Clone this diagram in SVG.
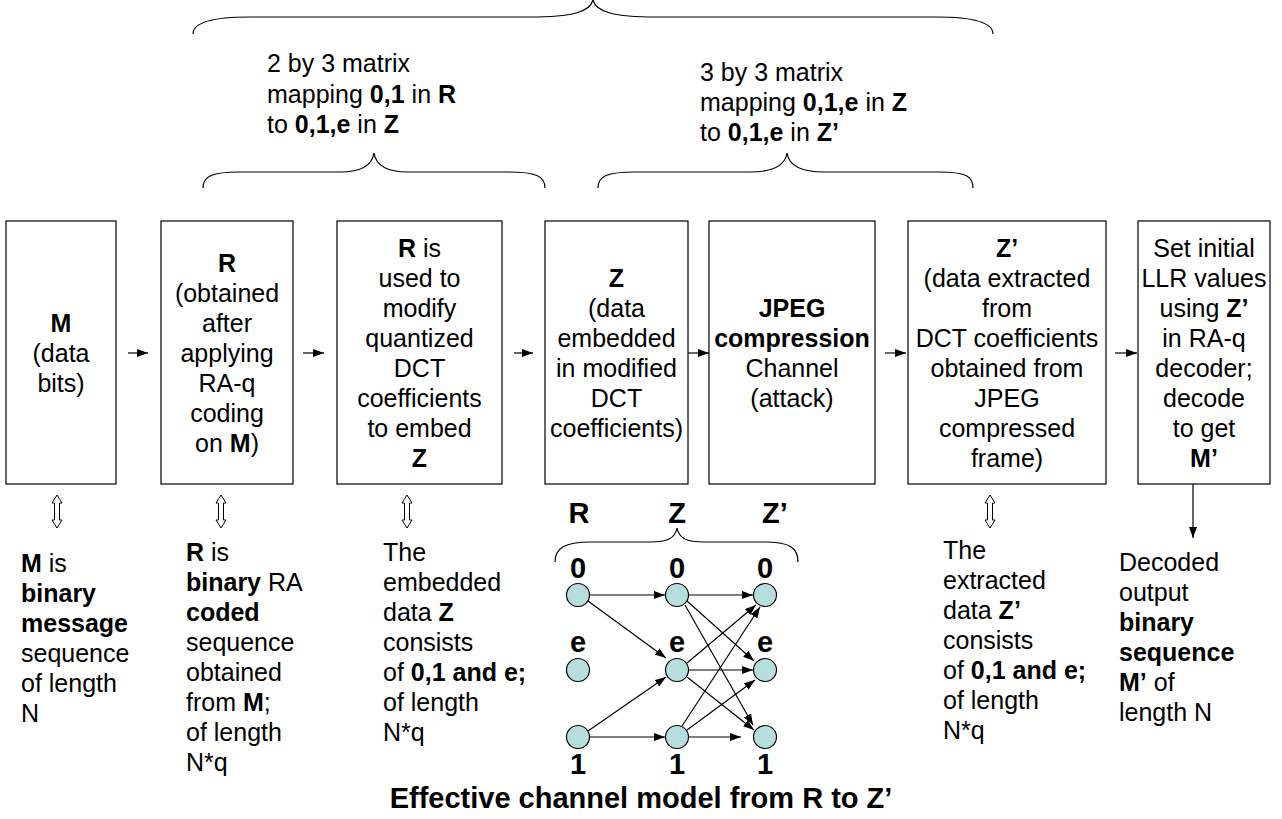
<svg xmlns="http://www.w3.org/2000/svg" width="1282" height="819" viewBox="0 0 1282 819">
  <style>
    text { font-family: "Liberation Sans", Arial, sans-serif; font-size: 25px; fill: #000; }
    .c { text-anchor: middle; }
    .b { font-weight: bold; }
    .note { font-size: 26px; }
    .box { fill: #fff; stroke: #000; stroke-width: 1.2; }
    .brace { fill: none; stroke: #000; stroke-width: 1.2; }
    .arr { stroke: #000; stroke-width: 1.2; fill: none; marker-end: url(#head); }
    .dbl { fill: #fff; stroke: #000; stroke-width: 1; }
    .node { fill: #b7dedf; stroke: #000; stroke-width: 1.2; }
    .lab { font-weight: bold; font-size: 29px; text-anchor: middle; }
    .title { font-weight: bold; font-size: 29px; text-anchor: middle; }
  </style>
  <defs>
    <marker id="head" markerUnits="userSpaceOnUse" markerWidth="11" markerHeight="8" refX="11" refY="4" orient="auto">
      <path d="M0,0 L11,4 L0,8 z" fill="#000"/>
    </marker>
  </defs>

  <rect width="1282" height="819" fill="#fff"/>

  <!-- braces and matrix notes above the pipeline -->
  <g id="braces">
    <path class="brace" d="M193,34 C193,22 213,17 250,17 L530,17 C572,17 590,12 593,0 C596,12 614,17 656,17 L936,17 C973,17 993,22 993,34"/>
    <path class="brace" d="M203,188 C203,176 212,172 240,172 L340,172 C361,172 372,166 374,153 C376,166 387,172 408,172 L508,172 C536,172 545,176 545,188"/>
    <path class="brace" d="M598,188 C598,176 607,172 635,172 L750,172 C772,172 785,166 787,153 C789,166 802,172 824,172 L938,172 C966,172 973,176 973,188"/>
  </g>
  <g id="note-r-to-z" class="note">
    <text x="267" y="72">2 by 3 matrix</text>
    <text x="267" y="103">mapping <tspan class="b">0,1</tspan> in <tspan class="b">R</tspan></text>
    <text x="267" y="133">to <tspan class="b">0,1,e</tspan> in <tspan class="b">Z</tspan></text>
  </g>
  <g id="note-z-to-z2" class="note">
    <text x="700" y="81">3 by 3 matrix</text>
    <text x="700" y="111">mapping <tspan class="b">0,1,e</tspan> in <tspan class="b">Z</tspan></text>
    <text x="700" y="141">to <tspan class="b">0,1,e</tspan> in <tspan class="b">Z’</tspan></text>
  </g>

  <!-- pipeline stages -->
  <g id="stage-m">
    <rect class="box" x="6" y="221" width="110" height="263"/>
    <text class="c b" x="61" y="332">M</text>
    <text class="c" x="61" y="362">(data</text>
    <text class="c" x="61" y="392">bits)</text>
  </g>
  <g id="stage-r">
    <rect class="box" x="161" y="221" width="132" height="263"/>
    <text class="c b" x="227" y="272">R</text>
    <text class="c" x="227" y="302">(obtained</text>
    <text class="c" x="227" y="332">after</text>
    <text class="c" x="227" y="362">applying</text>
    <text class="c" x="227" y="392">RA-q</text>
    <text class="c" x="227" y="422">coding</text>
    <text class="c" x="227" y="452">on <tspan class="b">M</tspan>)</text>
  </g>
  <g id="stage-embed">
    <rect class="box" x="337" y="221" width="165" height="263"/>
    <text class="c" x="419.5" y="257"><tspan class="b">R</tspan> is</text>
    <text class="c" x="419.5" y="287">used to</text>
    <text class="c" x="419.5" y="317">modify</text>
    <text class="c" x="419.5" y="347">quantized</text>
    <text class="c" x="419.5" y="377">DCT</text>
    <text class="c" x="419.5" y="407">coefficients</text>
    <text class="c" x="419.5" y="437">to embed</text>
    <text class="c b" x="419.5" y="467">Z</text>
  </g>
  <g id="stage-z">
    <rect class="box" x="545" y="221" width="143" height="263"/>
    <text class="c b" x="616.5" y="287">Z</text>
    <text class="c" x="616.5" y="317">(data</text>
    <text class="c" x="616.5" y="347">embedded</text>
    <text class="c" x="616.5" y="377">in modified</text>
    <text class="c" x="616.5" y="407">DCT</text>
    <text class="c" x="616.5" y="437">coefficients)</text>
  </g>
  <g id="stage-jpeg">
    <rect class="box" x="709" y="221" width="166" height="263"/>
    <text class="c b" x="792" y="317">JPEG</text>
    <text class="c b" x="792" y="347">compression</text>
    <text class="c" x="792" y="377">Channel</text>
    <text class="c" x="792" y="407">(attack)</text>
  </g>
  <g id="stage-z2">
    <rect class="box" x="908" y="221" width="198" height="263"/>
    <text class="c b" x="1007" y="257">Z’</text>
    <text class="c" x="1007" y="287">(data extracted</text>
    <text class="c" x="1007" y="317">from</text>
    <text class="c" x="1007" y="347">DCT coefficients</text>
    <text class="c" x="1007" y="377">obtained from</text>
    <text class="c" x="1007" y="407">JPEG</text>
    <text class="c" x="1007" y="437">compressed</text>
    <text class="c" x="1007" y="467">frame)</text>
  </g>
  <g id="stage-decode">
    <rect class="box" x="1138" y="221" width="132" height="263"/>
    <text class="c" x="1204" y="257">Set initial</text>
    <text class="c" x="1204" y="287">LLR values</text>
    <text class="c" x="1204" y="317">using <tspan class="b">Z’</tspan></text>
    <text class="c" x="1204" y="347">in RA-q</text>
    <text class="c" x="1204" y="377">decoder;</text>
    <text class="c" x="1204" y="407">decode</text>
    <text class="c" x="1204" y="437">to get</text>
    <text class="c b" x="1204" y="467">M’</text>
  </g>

  <!-- connectors between stages and to the notes below -->
  <g id="connectors">
    <line class="arr" x1="128" y1="353" x2="148" y2="353"/>
    <line class="arr" x1="303" y1="353" x2="324" y2="353"/>
    <line class="arr" x1="514" y1="353" x2="533" y2="353"/>
    <line class="arr" x1="688" y1="353" x2="709" y2="353"/>
    <line class="arr" x1="885" y1="353" x2="906" y2="353"/>
    <line class="arr" x1="1115" y1="353" x2="1137" y2="353"/>
    <line class="arr" x1="1193" y1="484" x2="1193" y2="538"/>
    <path class="dbl" d="M57,495 L62,503 L59.5,503 L59.5,520 L62,520 L57,528 L52,520 L54.5,520 L54.5,503 L52,503 Z"/>
    <path class="dbl" d="M221,495 L226,503 L223.5,503 L223.5,520 L226,520 L221,528 L216,520 L218.5,520 L218.5,503 L216,503 Z"/>
    <path class="dbl" d="M407,495 L412,503 L409.5,503 L409.5,520 L412,520 L407,528 L402,520 L404.5,520 L404.5,503 L402,503 Z"/>
    <path class="dbl" d="M990,495 L995,503 L992.5,503 L992.5,520 L995,520 L990,528 L985,520 L987.5,520 L987.5,503 L985,503 Z"/>
  </g>

  <!-- descriptions under the stages -->
  <g id="desc-m">
    <text x="21" y="572"><tspan class="b">M</tspan> is</text>
    <text class="b" x="21" y="602">binary</text>
    <text class="b" x="21" y="632">message</text>
    <text x="21" y="662">sequence</text>
    <text x="21" y="692">of length</text>
    <text x="21" y="722">N</text>
  </g>
  <g id="desc-r">
    <text x="186" y="561"><tspan class="b">R</tspan> is</text>
    <text x="186" y="591"><tspan class="b">binary</tspan> RA</text>
    <text class="b" x="186" y="621">coded</text>
    <text x="186" y="651">sequence</text>
    <text x="186" y="681">obtained</text>
    <text x="186" y="711">from <tspan class="b">M</tspan>;</text>
    <text x="186" y="741">of length</text>
    <text x="186" y="771">N*q</text>
  </g>
  <g id="desc-z">
    <text x="383" y="561">The</text>
    <text x="383" y="591">embedded</text>
    <text x="383" y="621">data <tspan class="b">Z</tspan></text>
    <text x="383" y="651">consists</text>
    <text x="383" y="681">of <tspan class="b">0,1 and e;</tspan></text>
    <text x="383" y="711">of length</text>
    <text x="383" y="741">N*q</text>
  </g>
  <g id="desc-z2">
    <text x="943" y="559">The</text>
    <text x="943" y="589">extracted</text>
    <text x="943" y="619">data <tspan class="b">Z’</tspan></text>
    <text x="943" y="649">consists</text>
    <text x="943" y="679">of <tspan class="b">0,1 and e;</tspan></text>
    <text x="943" y="709">of length</text>
    <text x="943" y="739">N*q</text>
  </g>
  <g id="desc-output">
    <text x="1119" y="571">Decoded</text>
    <text x="1119" y="601">output</text>
    <text class="b" x="1119" y="631">binary</text>
    <text class="b" x="1119" y="661">sequence</text>
    <text x="1119" y="691"><tspan class="b">M’</tspan> of</text>
    <text x="1119" y="721">length N</text>
  </g>

  <!-- effective channel model R -> Z -> Z' -->
  <g id="channel-labels">
    <text class="lab" x="579" y="523">R</text>
    <text class="lab" x="677" y="523">Z</text>
    <text class="lab" x="775" y="523">Z’</text>
    <path class="brace" d="M555,562 C555,548 565,542 590,542 L650,542 C668,542 675,538 677,528 C679,538 686,542 704,542 L765,542 C790,542 798,548 798,562"/>
    <text class="lab" x="578" y="578">0</text>
    <text class="lab" x="677" y="578">0</text>
    <text class="lab" x="765" y="578">0</text>
    <text class="lab" x="578" y="652">e</text>
    <text class="lab" x="677" y="652">e</text>
    <text class="lab" x="765" y="652">e</text>
    <text class="lab" x="578" y="774">1</text>
    <text class="lab" x="677" y="774">1</text>
    <text class="lab" x="765" y="774">1</text>
  </g>
  <g id="channel-edges">
    <line class="arr" x1="590" y1="595" x2="665" y2="595"/>
    <line class="arr" x1="588" y1="601" x2="666" y2="658"/>
    <line class="arr" x1="588" y1="731" x2="666" y2="677"/>
    <line class="arr" x1="590" y1="737" x2="665" y2="737"/>
    <line class="arr" x1="689" y1="595" x2="753" y2="595"/>
    <line class="arr" x1="687" y1="601" x2="754" y2="661"/>
    <line class="arr" x1="685" y1="605" x2="753" y2="725"/>
    <line class="arr" x1="687" y1="663" x2="756" y2="605"/>
    <line class="arr" x1="689" y1="670" x2="753" y2="670"/>
    <line class="arr" x1="687" y1="677" x2="754" y2="730"/>
    <line class="arr" x1="682" y1="726" x2="760" y2="607"/>
    <line class="arr" x1="687" y1="730" x2="755" y2="680"/>
    <line class="arr" x1="689" y1="737" x2="741" y2="737"/>
  </g>
  <g id="channel-nodes">
    <circle class="node" cx="578" cy="595" r="11.5"/>
    <circle class="node" cx="677" cy="595" r="11.5"/>
    <circle class="node" cx="765" cy="595" r="11.5"/>
    <circle class="node" cx="578" cy="670" r="11.5"/>
    <circle class="node" cx="677" cy="670" r="11.5"/>
    <circle class="node" cx="765" cy="670" r="11.5"/>
    <circle class="node" cx="578" cy="737" r="11.5"/>
    <circle class="node" cx="677" cy="737" r="11.5"/>
    <circle class="node" cx="765" cy="737" r="11.5"/>
  </g>
  <text id="channel-title" class="title" x="641" y="808">Effective channel model from R to Z’</text>
</svg>
